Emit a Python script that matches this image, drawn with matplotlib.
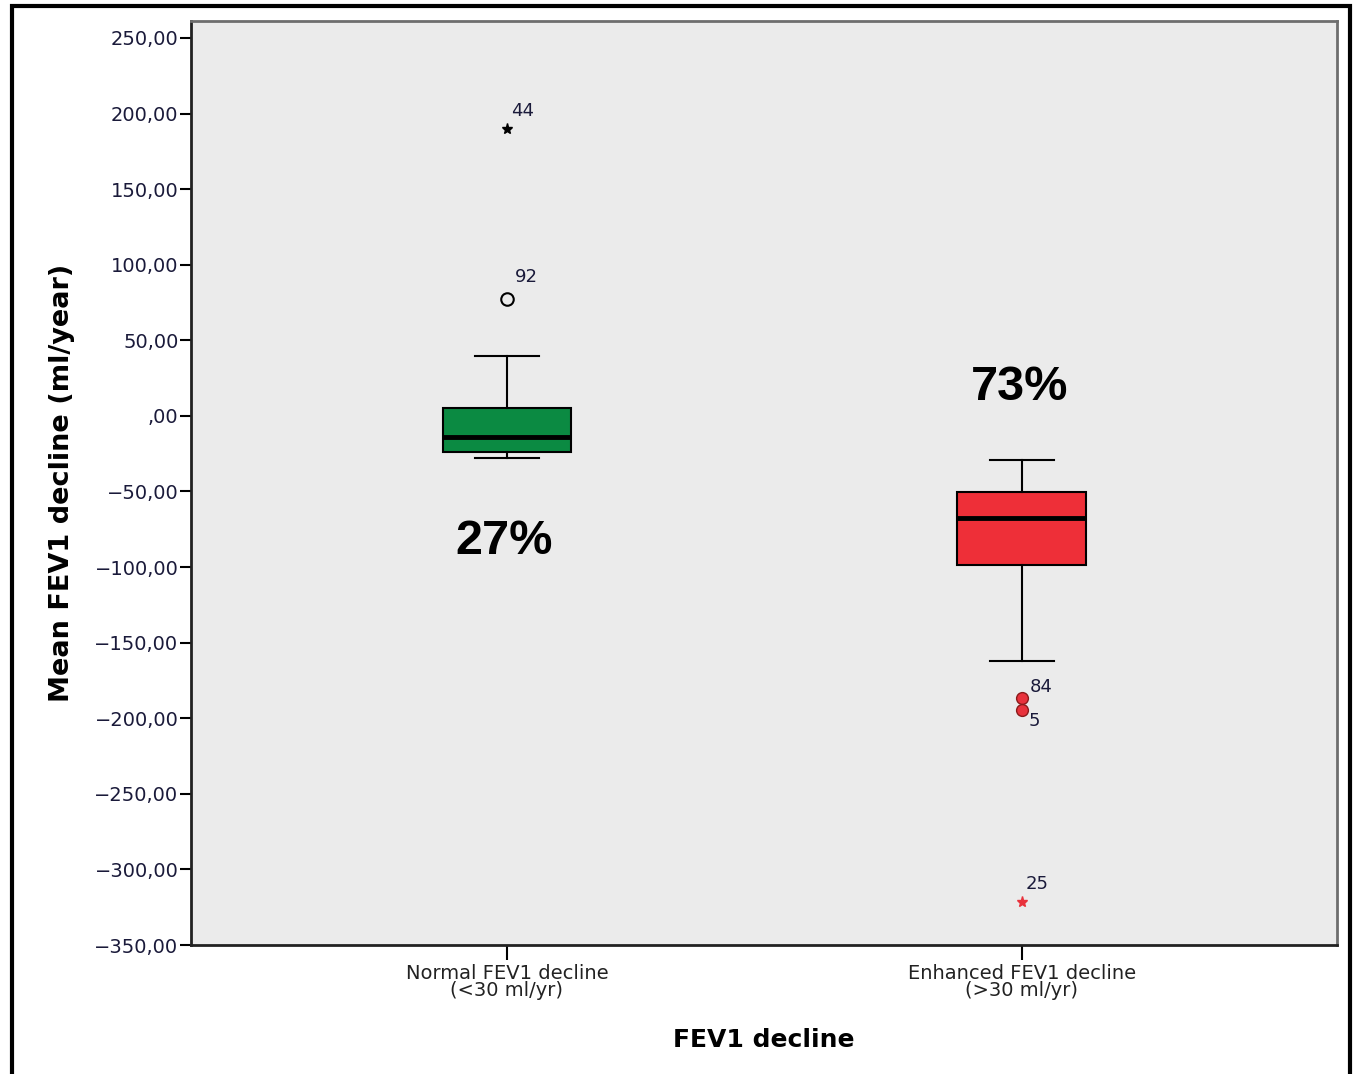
import matplotlib
matplotlib.use("Agg")
import matplotlib.pyplot as plt
from matplotlib.patches import Rectangle

# box statistics (ml/year)
groups = ["Normal FEV1 decline\n(<30 ml/yr)", "Enhanced FEV1 decline\n(>30 ml/yr)"]
whis_low = [-28.0, -162.0]
q1 = [-23.6, -98.6]
median = [-14.1, -67.7]
q3 = [5.1, -50.1]
whis_high = [39.7, -29.1]
box_colors = ["#0B8A42", "#EE2F38"]
percent = ["27%", "73%"]
percent_y = [-83.0, 19.0]

# outliers: group index, value, case label, kind
out_group = [1, 1, 2, 2, 2]
out_value = [189.6, 77.4, -186.8, -194.5, -321.3]
out_label = ["44", "92", "84", "5", "25"]
out_kind = ["star", "circle", "circle", "circle", "star"]

yticks = [250, 200, 150, 100, 50, 0, -50, -100, -150, -200, -250, -300, -350]

def fmt(v):
    s = "%.2f" % v
    s = s.replace(".", ",")
    if v == 0:
        s = ",00"
    return s.replace("-", "\u2212")

fig = plt.figure(figsize=(13.54, 10.74), dpi=100)
ax = fig.add_axes([0.1411, 0.1201, 0.8463, 0.8603])
ax.set_facecolor("#EBEBEB")

stats = []
for i in range(2):
    stats.append({"whislo": whis_low[i], "q1": q1[i], "med": median[i],
                  "q3": q3[i], "whishi": whis_high[i], "fliers": []})

bp = ax.bxp(stats, positions=[1, 2], widths=0.25, patch_artist=True,
            showfliers=False,
            boxprops=dict(edgecolor="black", linewidth=1.5),
            medianprops=dict(color="black", linewidth=3.5),
            whiskerprops=dict(color="black", linewidth=1.5),
            capprops=dict(color="black", linewidth=1.5),
            capwidths=0.125)
for patch, c in zip(bp["boxes"], box_colors):
    patch.set_facecolor(c)

# outliers
for g, v, lab, kind in zip(out_group, out_value, out_label, out_kind):
    x = g
    col = "black" if g == 1 else "#E8323C"
    if kind == "star":
        ax.plot(x, v, marker="*", markersize=8, color=col, linestyle="none")
        off = (3, 13)
    else:
        if g == 1:
            ax.plot(x, v, marker="o", markersize=9, markerfacecolor="none",
                    markeredgecolor="black", markeredgewidth=1.5, linestyle="none")
            off = (6, 16)
        else:
            ax.plot(x, v, marker="o", markersize=8.5, markerfacecolor="#E8323C",
                    markeredgecolor="#8B1A1A", markeredgewidth=1, linestyle="none")
            off = (6, 8) if lab == "84" else (5, -8)
    ax.annotate(lab, (x, v), xytext=off, textcoords="offset points",
                fontsize=13, color="#1A1A3A", ha="left", va="center")

for i in range(2):
    ax.text(i + 1 - 0.005, percent_y[i], percent[i], fontsize=35,
            fontweight="bold", family="Liberation Sans", ha="center", va="center")

ax.set_xlim(0.3866, 2.612)
ax.set_ylim(-350, 261.2)
ax.set_yticks(yticks)
ax.set_yticklabels([fmt(v) for v in yticks], fontsize=14, color="#1A1A3A")
ax.set_xticks([1, 2])
ax.set_xticklabels(groups, fontsize=14, color="#222222", linespacing=0.85)
ax.tick_params(axis="y", length=8, width=1.5, pad=1)
ax.tick_params(axis="x", length=11, width=1.5, pad=3)

ax.set_ylabel("Mean FEV1 decline (ml/year)", fontsize=19.5, fontweight="bold", labelpad=14)
ax.set_xlabel("FEV1 decline", fontsize=18, fontweight="bold", labelpad=20)

for side in ["left", "bottom"]:
    ax.spines[side].set_linewidth(2)
    ax.spines[side].set_color("#222222")
for side in ["top", "right"]:
    ax.spines[side].set_linewidth(2)
    ax.spines[side].set_color("#6E6E6E")

# outer frame of the figure
fig.patches.append(Rectangle((12 / 1354, -0.01), 1338 / 1354, 1 - 6 / 1074 + 0.01,
                             transform=fig.transFigure, fill=False,
                             edgecolor="black", linewidth=3))

fig.savefig("out.png", dpi=100)
